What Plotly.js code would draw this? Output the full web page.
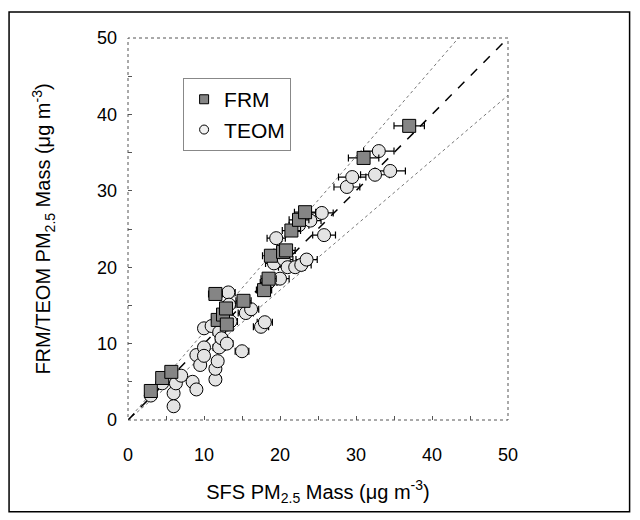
<!DOCTYPE html>
<html>
<head>
<meta charset="utf-8">
<script src="https://cdn.plot.ly/plotly-3.0.1.min.js"></script>
<style>html,body{margin:0;padding:0;background:#fff;}#chart{width:640px;height:520px;}</style>
</head>
<body>
<div id="chart"></div>
<script>
// FRM (squares)
const frmX = [3.0, 4.5, 5.7, 11.5, 11.8, 12.5, 12.9, 13.0, 15.2, 17.9, 18.5, 18.8, 20.4, 20.8, 21.5, 22.5, 23.3, 31.0, 37.0];
const frmY = [3.8, 5.5, 6.3, 16.5, 13.1, 13.8, 14.6, 12.5, 15.6, 17.0, 18.5, 21.5, 22.0, 22.2, 24.8, 26.2, 27.2, 34.3, 38.5];
const frmErr = [0.4, 0.5, 0.5, 0.9, 0.8, 0.8, 0.8, 0.8, 1.0, 1.0, 1.0, 1.1, 1.2, 1.2, 1.2, 1.3, 1.4, 2.0, 2.0];

// TEOM (circles)
const teomX = [3.0, 4.5, 5.8, 6.0, 6.0, 6.3, 7.0, 8.5, 9.0, 9.0, 9.5, 10.0, 10.0, 10.0, 11.0, 11.5, 11.5, 11.8, 12.0, 12.0, 12.3, 13.0, 13.0, 13.0, 13.2, 13.3, 13.5, 15.0, 15.5, 16.2, 17.5, 18.0, 18.5, 19.5, 19.2, 20.0, 20.5, 21.0, 22.0, 22.5, 22.8, 23.5, 24.0, 25.5, 25.8, 28.8, 29.5, 32.5, 33.0, 34.5];
const teomY = [3.2, 4.8, 5.4, 3.5, 1.8, 4.8, 5.8, 5.0, 4.0, 8.5, 7.2, 9.5, 8.4, 12.0, 12.3, 5.3, 6.7, 7.7, 11.5, 9.5, 10.7, 10.0, 12.5, 13.5, 16.7, 15.1, 12.9, 9.0, 14.0, 14.5, 12.2, 12.8, 18.0, 23.8, 20.5, 18.5, 21.0, 20.0, 20.0, 25.5, 20.3, 21.0, 26.1, 27.1, 24.2, 30.5, 31.8, 32.1, 35.2, 32.6];
const teomErr = [0.4, 0.5, 0.5, 0.5, 0.5, 0.5, 0.6, 0.6, 0.6, 0.6, 0.7, 0.7, 0.7, 0.7, 0.8, 0.7, 0.7, 0.7, 0.8, 0.8, 0.8, 0.8, 0.8, 0.8, 0.9, 0.9, 0.9, 0.9, 1.0, 1.0, 1.0, 1.0, 1.1, 1.2, 1.1, 1.2, 1.2, 1.2, 1.3, 1.3, 1.3, 1.4, 1.4, 1.5, 1.5, 1.7, 1.8, 1.9, 2.0, 2.0];

// Reference lines: 1:1 and +/- bounds
const refX = [0, 50];
const oneToOneY = [0, 50];
const upperY = [0, 57.5];
const lowerY = [0, 42.5];

const traces = [
  {x: refX, y: upperY, mode: 'lines', line: {color: '#777', width: 1, dash: 'dot'}, showlegend: false, hoverinfo: 'skip'},
  {x: refX, y: lowerY, mode: 'lines', line: {color: '#777', width: 1, dash: 'dot'}, showlegend: false, hoverinfo: 'skip'},
  {x: refX, y: oneToOneY, mode: 'lines', line: {color: '#000', width: 1.5, dash: 'dash'}, showlegend: false, hoverinfo: 'skip'},
  {x: teomX, y: teomY, mode: 'markers', name: 'TEOM', showlegend: false,
   error_x: {type: 'data', array: teomErr, color: '#000', thickness: 1.2, width: 3.5},
   marker: {symbol: 'circle', size: 13, color: '#e4e4e4', line: {color: '#000', width: 1}}},
  {x: frmX, y: frmY, mode: 'markers', name: 'FRM', showlegend: false,
   error_x: {type: 'data', array: frmErr, color: '#000', thickness: 1.2, width: 3.5},
   marker: {symbol: 'square', size: 13, color: '#858585', line: {color: '#000', width: 1}}},
  {x: [null], y: [null], mode: 'markers', name: 'FRM',
   marker: {symbol: 'square', size: 9, color: '#858585', line: {color: '#000', width: 1}}},
  {x: [null], y: [null], mode: 'markers', name: 'TEOM',
   marker: {symbol: 'circle', size: 9, color: '#f2f2f2', line: {color: '#000', width: 1}}}
];

const font = {family: 'Liberation Sans, Arial, sans-serif', color: '#000'};

const layout = {
  width: 640, height: 520,
  margin: {l: 128, r: 132, t: 38, b: 100, pad: 0},
  paper_bgcolor: '#fff', plot_bgcolor: '#fff',
  font: font,
  showlegend: true,
  legend: {x: 0.145, y: 0.895, xanchor: 'left', yanchor: 'top', bgcolor: '#fff',
           bordercolor: '#888', borderwidth: 1, font: {family: font.family, size: 21, color: '#000'},
           itemsizing: 'trace', tracegroupgap: 2},
  xaxis: {range: [0, 50], tickvals: [0, 10, 20, 30, 40, 50], ticks: 'inside', ticklen: 4, tickcolor: '#555',
          minor: {tickvals: [5, 15, 25, 35, 45], ticks: 'inside', ticklen: 4, tickcolor: '#555'},
          showgrid: false, zeroline: false, showline: false,
          tickfont: {family: font.family, size: 18, color: '#000'}, ticklabelstandoff: 22,
          title: {text: 'SFS PM<sub>2.5</sub> Mass (μg m<sup>-3</sup>)', font: {family: font.family, size: 20, color: '#000'}, standoff: 20}},
  yaxis: {range: [0, 50], tickvals: [0, 10, 20, 30, 40, 50], ticks: 'inside', ticklen: 4, tickcolor: '#555',
          minor: {tickvals: [5, 15, 25, 35, 45], ticks: 'inside', ticklen: 4, tickcolor: '#555'},
          showgrid: false, zeroline: false, showline: false,
          tickfont: {family: font.family, size: 18, color: '#000'}, ticklabelstandoff: 10,
          title: {text: 'FRM/TEOM PM<sub>2.5</sub> Mass (μg m<sup>-3</sup>)', font: {family: font.family, size: 20, color: '#000'}, standoff: 40}},
  shapes: [
    {type: 'rect', xref: 'paper', yref: 'paper', x0: 0, x1: 1, y0: 0, y1: 1,
     line: {color: '#555', width: 1, dash: 'dot'}, layer: 'above'},
    {type: 'rect', xref: 'paper', yref: 'paper', x0: -0.313, x1: 1.32, y0: -0.24, y1: 1.068,
     line: {color: '#000', width: 1.5}}
  ]
};

Plotly.newPlot('chart', traces, layout, {displayModeBar: false, staticPlot: true});
</script>
</body>
</html>
